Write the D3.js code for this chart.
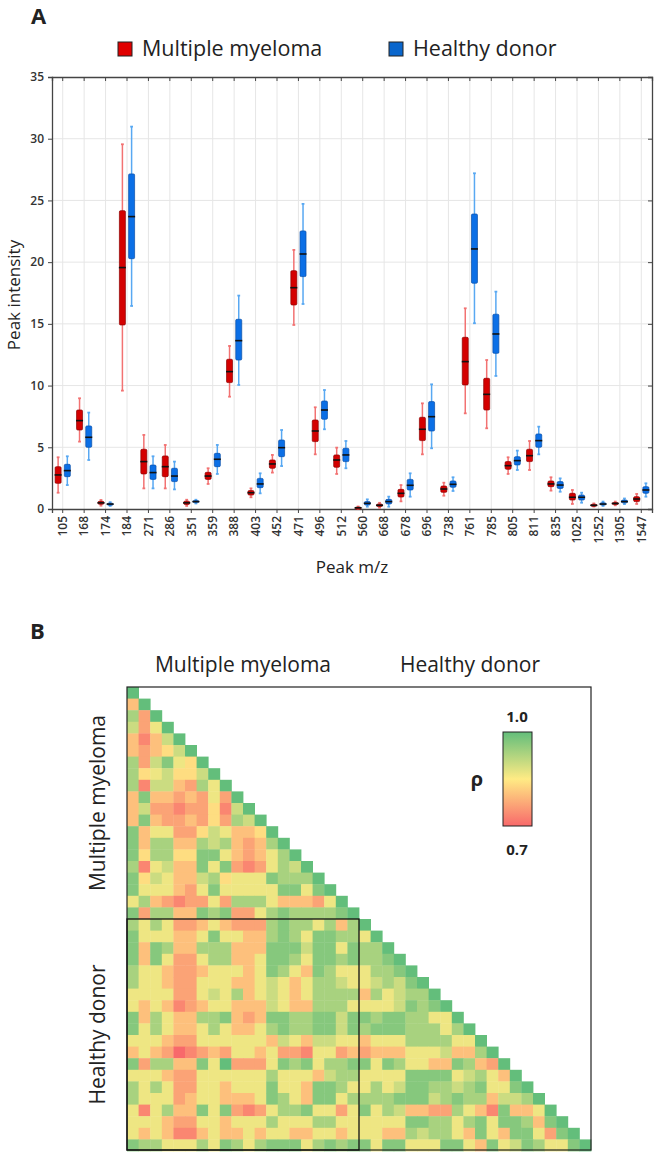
<!DOCTYPE html>
<html><head><meta charset="utf-8">
<script src="https://cdn.jsdelivr.net/npm/d3@7"></script>
<style>
body{margin:0;background:#fff}
svg{display:block}
text{font-family:"Open Sans",sans-serif;fill:#222}
</style>
</head><body>
<svg id="c" width="654" height="1152"></svg>
<script>
// ---------- Panel A data ----------
const peaks = ["105","168","174","184","271","286","351","359","388","403","452","471","496","512","560","668","678","696","738","761","785","805","811","835","1025","1252","1305","1547"];
const mmMin = [1.32,5.46,0.27,9.59,1.67,1.67,0.25,2.03,9.10,0.95,2.95,14.91,4.43,2.84,0.00,0.10,0.62,4.43,1.08,7.75,6.54,2.84,3.16,1.49,0.41,0.20,0.30,0.41];
const mmQ1  = [2.08,6.40,0.38,14.91,2.84,2.62,0.37,2.40,10.24,1.13,3.30,16.53,5.46,3.38,0.05,0.20,0.97,5.54,1.35,10.05,8.02,3.22,3.84,1.81,0.73,0.25,0.38,0.60];
const mmMed = [2.76,7.16,0.50,19.56,3.84,3.43,0.50,2.67,11.13,1.32,3.65,17.93,6.32,3.97,0.10,0.30,1.27,6.46,1.62,11.94,9.29,3.51,4.32,2.03,0.95,0.30,0.45,0.81];
const mmQ3  = [3.43,8.02,0.62,24.17,4.84,4.30,0.63,2.97,12.13,1.49,3.97,19.31,7.21,4.38,0.15,0.40,1.59,7.43,1.86,13.91,10.59,3.84,4.84,2.27,1.27,0.38,0.52,1.00];
const mmMax = [4.19,8.97,0.73,29.55,6.00,5.19,0.75,3.30,13.21,1.67,4.38,20.99,8.24,4.97,0.20,0.50,1.94,8.56,2.13,16.26,12.07,4.19,5.51,2.57,1.54,0.45,0.60,1.22];
const hdMin = [1.94,3.97,0.25,16.45,1.67,1.59,0.45,2.84,10.05,1.27,3.48,16.61,6.46,3.30,0.19,0.19,1.00,4.92,1.46,15.05,10.78,3.16,4.43,1.40,0.51,0.25,0.40,1.00];
const hdQ1  = [2.62,5.00,0.33,20.28,2.40,2.22,0.52,3.43,12.07,1.73,4.24,18.83,7.27,3.84,0.32,0.41,1.54,6.32,1.76,18.29,12.61,3.57,5.00,1.67,0.73,0.32,0.50,1.27];
const hdMed = [3.11,5.81,0.40,23.69,2.95,2.67,0.60,4.03,13.64,2.03,4.97,20.66,8.02,4.38,0.46,0.60,1.92,7.48,2.00,21.07,14.18,3.92,5.54,1.94,0.95,0.40,0.60,1.54];
const hdQ3  = [3.62,6.73,0.47,27.15,3.56,3.30,0.68,4.51,15.37,2.48,5.59,22.53,8.75,4.92,0.60,0.78,2.40,8.70,2.27,23.90,15.78,4.24,6.08,2.22,1.13,0.50,0.72,1.81];
const hdMax = [4.27,7.81,0.55,30.98,4.27,3.84,0.75,5.19,17.29,2.89,6.40,24.72,9.64,5.51,0.78,1.00,2.89,10.10,2.57,27.20,17.61,4.73,6.67,2.48,1.32,0.60,0.85,2.08];
const yTicks = [0,5,10,15,20,25,30,35];
const groups = ["Multiple myeloma","Healthy donor"];

// ---------- Panel B data ----------
// each digit d = correlation level, rho = 0.7 + d/30 (9 -> 1.0, 0 -> 0.7); row i holds columns 0..i
const rhoRows = [
"9",
"39",
"729",
"6259",
"31369",
"323469",
"7268549",
"74564469",
"716632759",
"3833232529",
"36221224169",
"383223242769",
"8355224653349",
"83773376732379",
"847744885323579",
"7156338582125769",
"84653367455587779",
"855532585555588589",
"5732122527775333259",
"82773387822578777789",
"757522353222787757379",
"8555335855337875887759",
"83873377733388868858779",
"838522577335887588787789",
"7553223555358753875557789",
"75532255533565357765567689",
"555522565735653577773756779",
"5353123553336533777555568789",
"83753377832388778868878877559",
"857533575335787788687888777579",
"5553225555553653665535557777559",
"35320123255352215523233355563379",
"827733859222587857788587553387329",
"5553225555557555367755558888567539",
"75752255355585538875575688776785589",
"755523553335875388577778886787736679",
"5157338582125778552585763322753183359",
"55532255355575557755555588775785887389",
"535311353353553355355533767753853885289",
"8775557587578885787885885558853856875589"
];
const rhoDomain = [0.7, 0.85, 1.0];
const rhoColors = ["#F8696B","#FFEB84","#63BE7B"];
const barLabels = ["1.0","0.7"];

const svg = d3.select("#c");

// ================= Panel A =================
const x = d3.scaleBand().domain(peaks).range([52, 652]);
const y = d3.scaleLinear().domain([0, 35]).range([509, 77]);
const cx = p => x(p) + x.bandwidth() / 2;
const gA = svg.append("g");

// grid
gA.append("g").selectAll("line").data(peaks).join("line")
  .attr("x1", cx).attr("x2", cx).attr("y1", y(0)).attr("y2", y(35))
  .attr("stroke", "#e6e6e6").attr("stroke-width", 1);
gA.append("g").selectAll("line").data(yTicks.slice(1, -1)).join("line")
  .attr("x1", 52).attr("x2", 652).attr("y1", d => y(d)).attr("y2", d => y(d))
  .attr("stroke", "#e6e6e6").attr("stroke-width", 1);

// axes
const axL = gA.append("g").attr("transform", "translate(52,0)")
  .call(d3.axisLeft(y).tickValues(yTicks).tickSize(4).tickPadding(4));
axL.selectAll("text").style("font-size", "12px").style("font-weight", 600).style("fill", "#333");
const axR = gA.append("g").attr("transform", "translate(652,0)")
  .call(d3.axisRight(y).tickValues(yTicks).tickSize(-4).tickFormat(""));
const axT = gA.append("g").attr("transform", "translate(0,77)")
  .call(d3.axisTop(x).tickSize(-4).tickFormat(""));
const axB = gA.append("g").attr("transform", "translate(0,509)")
  .call(d3.axisBottom(x).tickSize(4));
axB.selectAll("text")
  .attr("transform", "rotate(-90)").attr("x", -7).attr("y", 0).attr("dy", "0.36em")
  .style("text-anchor", "end").style("font-size", "12px").style("font-weight", 600).style("fill", "#333");
[axL, axR, axT, axB].forEach(a => {
  a.select(".domain").attr("stroke", "#444").attr("stroke-width", 1.3);
  a.selectAll(".tick line").attr("stroke", "#444");
});

// boxes
const series = [
  {name: groups[0], off: -4.6, fill: "#d40000", stroke: "#8c0000", wh: "#f27272",
   min: mmMin, q1: mmQ1, med: mmMed, q3: mmQ3, max: mmMax},
  {name: groups[1], off: 4.6, fill: "#0b6fe6", stroke: "#0a4fa8", wh: "#58a8f2",
   min: hdMin, q1: hdQ1, med: hdMed, q3: hdQ3, max: hdMax}
];
const bw = 6;
series.forEach(s => {
  const g = gA.append("g");
  const data = peaks.map((p, i) => ({p, min: s.min[i], q1: s.q1[i], med: s.med[i], q3: s.q3[i], max: s.max[i]}));
  g.selectAll(".wh").data(data).join("line")
    .attr("x1", d => cx(d.p) + s.off).attr("x2", d => cx(d.p) + s.off)
    .attr("y1", d => y(d.min)).attr("y2", d => y(d.max))
    .attr("stroke", s.wh).attr("stroke-width", 1.5);
  ["min", "max"].forEach(k => {
    g.selectAll(".cap" + k).data(data).join("line")
      .attr("x1", d => cx(d.p) + s.off - 1.4).attr("x2", d => cx(d.p) + s.off + 1.4)
      .attr("y1", d => y(d[k])).attr("y2", d => y(d[k]))
      .attr("stroke", s.wh).attr("stroke-width", 1.8);
  });
  g.selectAll(".bx").data(data).join("rect")
    .attr("x", d => cx(d.p) + s.off - bw / 2).attr("width", bw)
    .attr("y", d => y(d.q3)).attr("height", d => Math.max(2, y(d.q1) - y(d.q3)))
    .attr("rx", 1.2)
    .attr("fill", s.fill).attr("stroke", s.stroke).attr("stroke-width", 0.7);
  g.selectAll(".md").data(data).join("line")
    .attr("x1", d => cx(d.p) + s.off - bw / 2 - 0.5).attr("x2", d => cx(d.p) + s.off + bw / 2 + 0.5)
    .attr("y1", d => y(d.med)).attr("y2", d => y(d.med))
    .attr("stroke", "#111").attr("stroke-width", 1.6);
});

// axis titles
gA.append("text").attr("transform", "translate(20,295) rotate(-90)")
  .attr("text-anchor", "middle").style("font-size", "17px").text("Peak intensity");
gA.append("text").attr("x", 352).attr("y", 573)
  .attr("text-anchor", "middle").style("font-size", "17px").text("Peak m/z");

// legend
const leg = [{t: groups[0], x: 118, c: "#e00000"}, {t: groups[1], x: 389, c: "#0a66cc"}];
leg.forEach(l => {
  gA.append("rect").attr("x", l.x).attr("y", 42).attr("width", 14).attr("height", 14)
    .attr("fill", l.c).attr("stroke", "#222").attr("stroke-width", 1);
  gA.append("text").attr("x", l.x + 24).attr("y", 56).style("font-size", "21.5px").text(l.t);
});
svg.append("text").attr("x", 31).attr("y", 24).style("font-size", "22px").style("font-weight", 700).text("A");

// ================= Panel B =================
const xb = d3.scaleBand().domain(d3.range(40)).range([127, 591]);
const yb = d3.scaleBand().domain(d3.range(40)).range([687, 1151]);
const col = d3.scaleLinear().domain(rhoDomain).range(rhoColors);
const cells = [];
rhoRows.forEach((r, i) => r.split("").forEach((ch, j) => cells.push({i, j, rho: 0.7 + (+ch) / 30})));
const gB = svg.append("g");
gB.selectAll("rect.cell").data(cells).join("rect").attr("class", "cell")
  .attr("x", d => xb(d.j)).attr("y", d => yb(d.i))
  .attr("width", xb.bandwidth() + 0.4).attr("height", yb.bandwidth() + 0.4)
  .attr("fill", d => col(d.rho));
gB.append("rect").attr("x", xb(0)).attr("y", yb(0)).attr("width", 464).attr("height", 463)
  .attr("fill", "none").attr("stroke", "#222").attr("stroke-width", 1.2);
gB.append("rect").attr("x", xb(0)).attr("y", yb(20)).attr("width", xb(20) - xb(0)).attr("height", 1150 - yb(20))
  .attr("fill", "none").attr("stroke", "#111").attr("stroke-width", 1.3);

// group labels
gB.append("text").attr("x", 243).attr("y", 672).attr("text-anchor", "middle").style("font-size", "21px").text(groups[0]);
gB.append("text").attr("x", 470).attr("y", 672).attr("text-anchor", "middle").style("font-size", "21px").text(groups[1]);
gB.append("text").attr("transform", `translate(105,${(yb(0) + yb(20)) / 2}) rotate(-90)`)
  .attr("text-anchor", "middle").style("font-size", "21px").text(groups[0]);
gB.append("text").attr("transform", `translate(105,${(yb(20) + 1150) / 2}) rotate(-90)`)
  .attr("text-anchor", "middle").style("font-size", "21px").text(groups[1]);
svg.append("text").attr("x", 30).attr("y", 639).style("font-size", "22px").style("font-weight", 700).text("B");

// colour bar
const defs = svg.append("defs");
const grad = defs.append("linearGradient").attr("id", "rg").attr("x1", 0).attr("y1", 1).attr("x2", 0).attr("y2", 0);
rhoDomain.forEach((v, k) => grad.append("stop").attr("offset", (v - 0.7) / 0.3).attr("stop-color", rhoColors[k]));
gB.append("rect").attr("x", 503).attr("y", 732).attr("width", 29).attr("height", 94)
  .attr("fill", "url(#rg)").attr("stroke", "#222").attr("stroke-width", 1);
gB.append("text").attr("x", 517).attr("y", 722).attr("text-anchor", "middle").style("font-size", "15px").style("font-weight", 700).text(barLabels[0]);
gB.append("text").attr("x", 517).attr("y", 855).attr("text-anchor", "middle").style("font-size", "15px").style("font-weight", 700).text(barLabels[1]);
gB.append("text").attr("x", 477).attr("y", 786).attr("text-anchor", "middle").style("font-size", "20px").style("font-weight", 700).text("ρ");
</script>
</body></html>
